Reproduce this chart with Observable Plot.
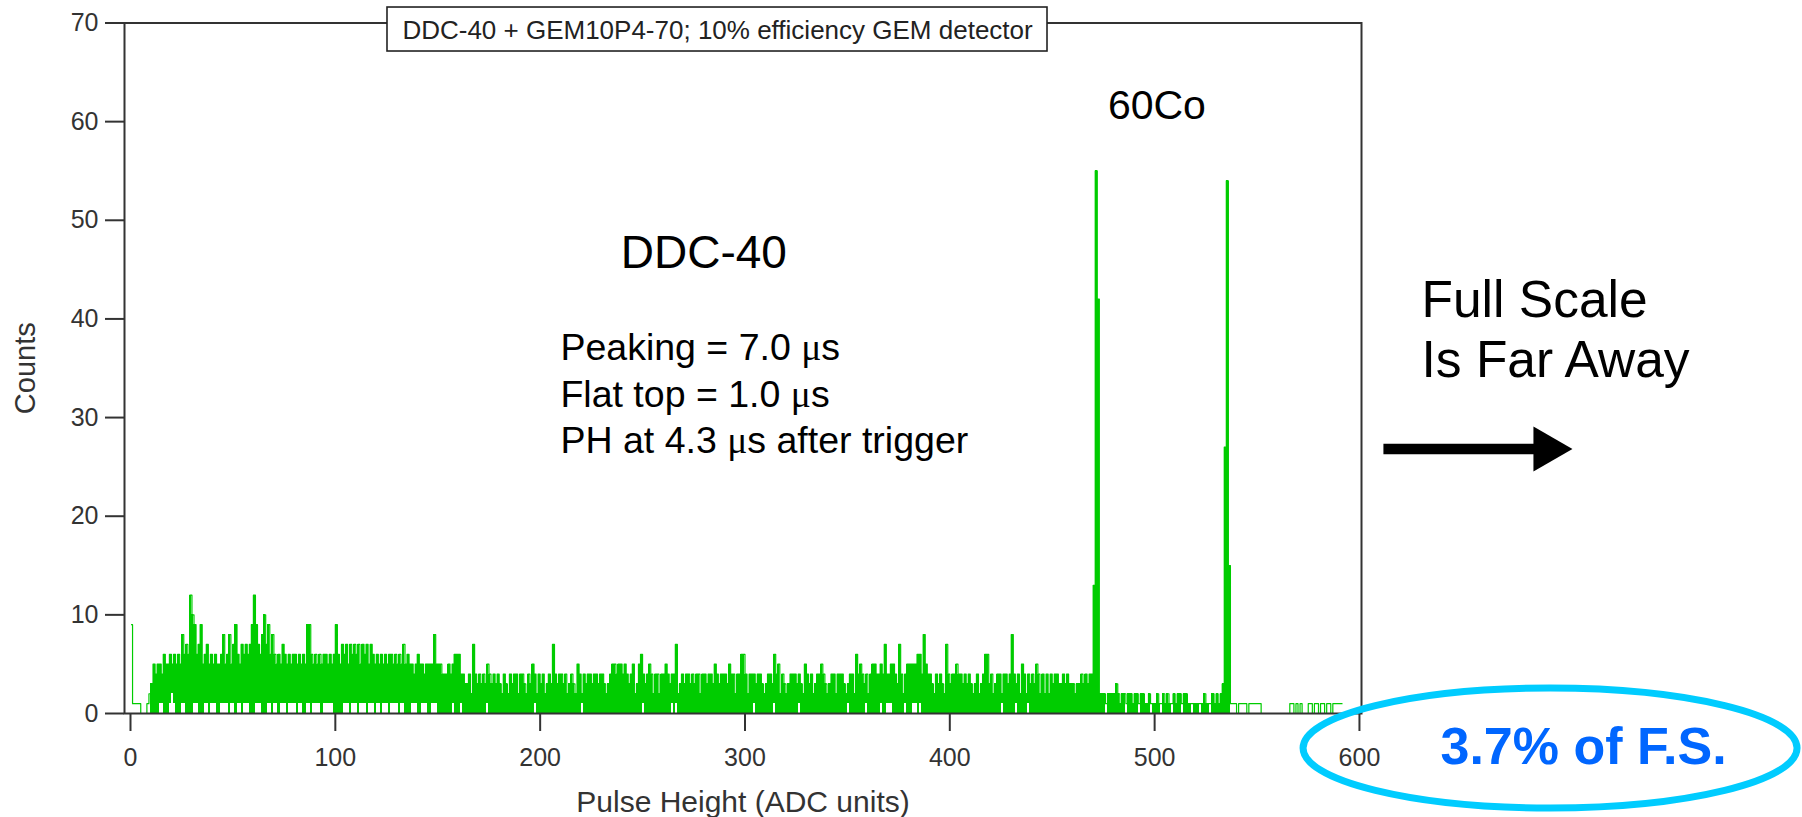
<!DOCTYPE html>
<html>
<head>
<meta charset="utf-8">
<script src="https://cdn.jsdelivr.net/npm/d3@7"></script>
<script src="https://cdn.jsdelivr.net/npm/@observablehq/plot@0.6"></script>
<style>
  html, body { margin: 0; padding: 0; background: #ffffff; overflow: hidden; }
  #chart svg { display: block; }
</style>
</head>
<body>
<div id="chart"></div>
<script>
// Top of each ADC channel (counts), channels 0..591
const binCounts = [
  9,1,1,1,1,0,0,0,1,2,
  3,5,4,5,5,4,6,5,5,6,
  5,6,5,6,5,8,6,7,6,12,
  10,9,6,7,9,5,6,7,5,6,
  5,6,5,5,6,8,5,6,8,5,
  7,9,6,5,7,6,7,6,7,9,
  12,9,7,6,8,10,7,9,6,8,
  6,5,6,5,7,6,5,6,5,6,
  6,5,6,5,6,5,9,9,6,5,
  6,5,6,5,6,6,5,6,5,6,
  9,6,5,7,6,7,5,7,6,7,
  6,7,5,7,6,7,5,7,6,5,
  6,5,6,5,6,5,6,6,5,6,
  5,6,5,7,5,6,5,5,4,5,
  6,5,5,4,5,5,5,5,8,5,
  5,5,4,4,4,5,4,5,6,6,
  6,4,4,3,3,4,2,7,4,3,
  4,3,4,3,5,4,3,4,3,4,
  3,2,4,3,2,4,3,4,4,2,
  4,4,3,2,4,3,5,4,2,4,
  3,4,2,3,4,3,7,4,3,4,
  4,3,4,2,3,4,3,2,5,4,
  2,4,3,4,4,3,4,4,3,4,
  4,3,2,3,4,5,5,4,5,5,
  4,5,4,3,4,5,2,3,5,6,
  4,3,4,5,4,2,4,4,2,4,
  4,5,4,3,4,4,7,2,3,4,
  3,4,4,3,4,3,4,4,2,4,
  4,3,4,4,3,5,4,3,4,4,
  4,3,5,4,4,2,4,4,6,6,
  4,2,4,4,4,3,4,4,3,2,
  3,4,4,3,6,4,5,2,4,3,
  2,3,4,4,4,3,4,3,2,5,
  4,3,4,2,3,4,4,5,4,3,
  2,3,4,4,2,4,4,4,3,2,
  3,4,4,2,6,4,5,4,3,4,
  2,4,5,5,4,4,5,4,7,4,
  4,5,5,4,3,7,4,2,4,5,
  5,5,5,5,6,6,4,8,5,4,
  4,3,2,4,3,4,3,2,7,4,
  3,4,4,5,4,4,3,4,3,4,
  3,2,3,4,2,3,4,6,6,3,
  4,2,3,4,4,2,4,4,3,4,
  8,4,3,4,2,5,4,2,4,3,
  4,3,5,4,2,4,2,4,2,4,
  3,4,4,3,3,4,3,4,3,3,
  3,2,3,3,4,3,4,3,4,4,
  13,55,42,2,2,2,1,2,2,2,
  2,3,2,1,2,2,1,2,2,1,
  2,2,1,2,2,1,1,2,1,1,
  1,2,1,1,2,1,2,1,1,2,
  1,2,2,1,2,2,1,1,1,1,
  1,1,1,1,2,1,1,1,2,1,
  2,1,2,3,27,54,15,1,1,1,
  0,1,1,1,1,0,1,1,1,1,
  1,1,0,0,0,0,0,0,0,0,
  0,0,0,0,0,0,1,1,0,1,
  0,1,0,0,0,1,1,0,1,1,
  0,1,1,0,1,1,0,1,1,1,
  1,1
];
// Lowest count reached inside each channel's pixel column
const binFloor = [
  9,1,1,1,1,0,0,0,1,2,
  0,0,0,0,1,1,0,0,0,1,
  2,1,0,0,0,1,1,0,0,0,
  0,1,1,0,0,0,1,1,0,1,
  1,1,0,0,1,1,1,1,0,1,
  1,0,1,1,0,1,1,1,0,0,
  0,1,1,1,0,0,0,1,1,0,
  1,1,0,1,1,1,0,1,1,1,
  1,0,1,1,0,0,1,1,0,1,
  1,1,1,0,1,1,1,1,1,0,
  0,0,0,0,1,1,1,0,1,1,
  1,0,1,1,1,0,1,1,1,0,
  1,1,0,1,1,1,0,1,1,1,
  1,0,1,1,0,0,0,1,1,1,
  0,0,1,1,1,0,0,1,1,1,
  0,0,0,0,0,0,0,1,0,0,
  0,1,0,0,0,0,0,0,0,0,
  0,0,0,0,1,0,0,0,0,0,
  0,0,0,0,0,0,0,0,0,0,
  0,0,0,0,0,0,0,1,0,0,
  0,0,0,0,0,0,0,0,0,0,
  0,0,0,0,0,0,0,0,0,0,
  1,0,0,0,0,0,0,0,0,0,
  0,0,0,0,0,0,0,0,0,0,
  0,0,0,0,0,0,0,0,0,0,
  1,0,0,0,0,0,0,0,0,0,
  0,0,0,0,1,0,1,0,0,0,
  0,0,0,0,0,0,0,0,0,0,
  0,0,0,0,0,0,0,0,0,0,
  0,0,0,0,0,0,0,0,0,0,
  0,0,0,0,1,0,0,0,0,0,
  0,0,0,0,1,0,0,0,0,0,
  0,0,0,0,0,0,1,0,0,0,
  0,0,0,0,0,0,0,0,0,0,
  0,0,0,0,0,0,0,0,0,0,
  1,0,0,0,0,0,0,0,0,1,
  0,0,0,0,0,0,1,0,0,1,
  1,1,0,0,0,0,0,0,1,0,
  0,0,1,1,0,1,0,0,0,0,
  0,0,0,0,0,0,0,0,0,0,
  0,0,0,0,0,0,0,0,0,0,
  0,0,0,0,0,0,0,0,0,0,
  0,0,0,0,0,1,0,0,0,0,
  0,0,1,0,0,0,0,0,1,0,
  0,0,0,0,0,0,0,0,0,0,
  0,0,0,0,0,0,0,0,0,0,
  0,0,0,0,0,0,0,0,0,0,
  0,0,0,0,0,0,1,0,0,0,
  0,0,0,0,0,0,1,0,0,0,
  0,0,1,0,0,0,0,0,1,0,
  0,0,0,1,0,0,0,0,1,0,
  0,0,0,1,0,0,0,0,1,0,
  0,0,1,0,0,0,0,1,0,0,
  0,0,0,0,0,0,0,1,1,1,
  0,1,1,1,1,0,1,1,1,1,
  1,1,0,0,0,0,0,0,0,0,
  0,0,0,0,0,0,1,1,0,1,
  0,1,0,0,0,1,1,0,1,1,
  0,1,1,0,1,1,0,1,1,1,
  1,1
];
const xTicks = [0, 100, 200, 300, 400, 500, 600];
const yTicks = [0, 10, 20, 30, 40, 50, 60, 70];
const titleText = "DDC-40 + GEM10P4-70; 10% efficiency GEM detector";
const peakLabel = "60Co";
const boardLabel = "DDC-40";
const shapingNotes = ["Peaking = 7.0 μs", "Flat top = 1.0 μs", "PH at 4.3 μs after trigger"];
const scaleNote = ["Full Scale", "Is Far Away"];
const fsNote = "3.7% of F.S.";
const xLabel = "Pulse Height (ADC units)";
const yLabel = "Counts";

const bins = binCounts.map((c, i) => ({adc: i, hi: c, lo: binFloor[i]}));
const GREEN = "#00cc00";
const FONT = "'Liberation Sans', Arial, Helvetica, sans-serif";

const chart = Plot.plot({
  width: 1802,
  height: 817,
  marginLeft: 124,
  marginRight: 441,
  marginTop: 22.5,
  marginBottom: 104,
  x: {domain: [-2.93, 601]},
  y: {domain: [0, 70]},
  style: {fontFamily: FONT, background: "#ffffff", overflow: "visible"},
  marks: [
    Plot.rect(bins, {x1: "adc", x2: d => d.adc + 1, y1: "lo", y2: "hi", fill: GREEN, shapeRendering: "crispEdges"}),
    Plot.line(bins, {x: d => d.adc + 0.5, y: "hi", curve: "step", stroke: GREEN, strokeWidth: 1.2}),
    Plot.frame({stroke: "#333", strokeWidth: 2}),
    Plot.axisY({ticks: yTicks, tickSize: 19, tickPadding: 7, fontSize: 25, label: null, color: "#333", strokeWidth: 2}),
    Plot.axisX({ticks: xTicks, tickSize: 18, tickPadding: 17, fontSize: 25, label: null, color: "#333", strokeWidth: 2}),
    // boxed title sitting on the top frame line
    Plot.rect([titleText], {x1: [125.47], x2: [447.7], y1: [67.11], y2: [71.57], fill: "#ffffff", stroke: "#222", strokeWidth: 1.6}),
    Plot.text([titleText], {x: [286.6], y: [68.33], text: d => d, fontSize: 26, lineAnchor: "bottom", fill: "#222"}),
    // in-plot annotations
    Plot.text([peakLabel], {x: [501.1], y: [60.3], text: d => d, fontSize: 41, lineAnchor: "bottom", fill: "#000"}),
    Plot.text([boardLabel], {x: [279.9], y: [45.2], text: d => d, fontSize: 46, lineAnchor: "bottom", fill: "#000"}),
    Plot.text([shapingNotes.join("\n")], {x: [209.9], y: [26.36], text: d => d, fontSize: 37.5, lineHeight: 1.24, lineAnchor: "bottom", textAnchor: "start", fill: "#000"}),
    // right-hand annotations
    Plot.text([scaleNote.join("\n")], {x: [630.3], y: [34.16], text: d => d, fontSize: 51.5, lineHeight: 1.15, lineAnchor: "bottom", textAnchor: "start", fill: "#000"}),
    Plot.link([0], {x1: [611.7], x2: [685.5], y1: [26.81], y2: [26.81], stroke: "#000", strokeWidth: 10.5}),
    Plot.dot([0], {x: [691.3], y: [26.81], symbol: "triangle2", r: 21.5, rotate: 90, fill: "#000", stroke: "none"}),
    Plot.text([fsNote], {x: [709.4], y: [-5.17], text: d => d, fontSize: 52, fontWeight: "bold", lineAnchor: "bottom", fill: "#0066ff"}),
    // axis titles
    Plot.text([xLabel], {frameAnchor: "bottom", dy: 98, text: d => d, fontSize: 30, lineAnchor: "bottom", textAnchor: "middle", fill: "#333"}),
    Plot.text([yLabel], {frameAnchor: "left", dx: -90, rotate: -90, text: d => d, fontSize: 29, lineAnchor: "bottom", textAnchor: "middle", fill: "#333"})
  ]
});

// highlight ellipse around the full-scale note
const sx = chart.scale("x"), sy = chart.scale("y");
const ns = "http://www.w3.org/2000/svg";
const ell = document.createElementNS(ns, "ellipse");
ell.setAttribute("cx", sx.apply(693.3));
ell.setAttribute("cy", sy.apply(-3.55));
ell.setAttribute("rx", 247);
ell.setAttribute("ry", 60);
ell.setAttribute("fill", "none");
ell.setAttribute("stroke", "#00ccff");
ell.setAttribute("stroke-width", 7);
chart.appendChild(ell);

// render the micro sign in a serif face, as in the original slide
chart.querySelectorAll("text, tspan").forEach(el => {
  if (el.children.length === 0 && el.textContent.includes("μ")) {
    const parts = el.textContent.split("μ");
    el.textContent = "";
    parts.forEach((p, k) => {
      if (k > 0) {
        const mu = document.createElementNS(ns, "tspan");
        mu.setAttribute("font-family", "'Liberation Serif', 'Times New Roman', serif");
        mu.textContent = "μ";
        el.appendChild(mu);
      }
      el.appendChild(document.createTextNode(p));
    });
  }
});

document.getElementById("chart").appendChild(chart);
</script>
</body>
</html>
